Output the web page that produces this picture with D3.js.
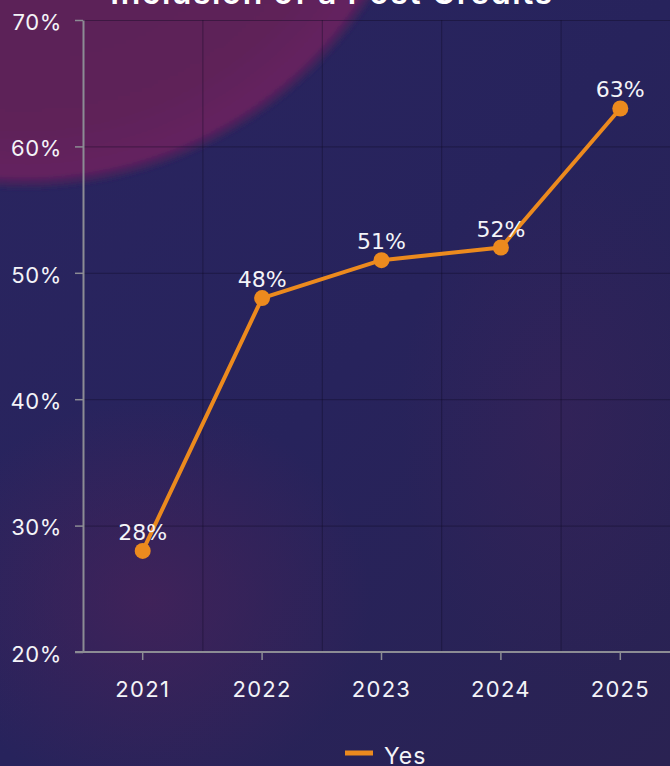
<!DOCTYPE html>
<html>
<head>
<meta charset="utf-8">
<script src="https://cdn.jsdelivr.net/npm/d3@7"></script>
<style>
    html, body { margin: 0; padding: 0; background: #27235a; overflow: hidden; }
</style>
</head>
<body>
<div id="chart"></div>
<script>
const years = ['2021', '2022', '2023', '2024', '2025']
const yesValues = [28, 48, 51, 52, 63]
const yTicks = [20, 30, 40, 50, 60, 70]
const seriesName = 'Yes'
const title = 'Inclusion of a Post Credits'

const width = 670
const height = 766
const margin = { top: 20, right: -10, bottom: 114, left: 83 }

const svg = d3
    .select('#chart')
    .append('svg')
    .attr('width', width)
    .attr('height', height)

const defs = svg.append('defs')

const bgGrad = defs.append('linearGradient')
    .attr('id', 'bg')
    .attr('x1', 0).attr('y1', 0).attr('x2', 1).attr('y2', 1)
bgGrad.append('stop').attr('offset', '0%').attr('stop-color', '#2a2560')
bgGrad.append('stop').attr('offset', '50%').attr('stop-color', '#27235c')
bgGrad.append('stop').attr('offset', '100%').attr('stop-color', '#2a2252')

const haze = defs.append('radialGradient').attr('id', 'haze')
haze.append('stop').attr('offset', '0%').attr('stop-color', '#4a2258').attr('stop-opacity', 0.7)
haze.append('stop').attr('offset', '100%').attr('stop-color', '#4a2258').attr('stop-opacity', 0)

const blob = defs.append('radialGradient').attr('id', 'blob')
blob.append('stop').attr('offset', '0%').attr('stop-color', '#571e58')
blob.append('stop').attr('offset', '85%').attr('stop-color', '#5e2159')
blob.append('stop').attr('offset', '97%').attr('stop-color', '#65205f')
blob.append('stop').attr('offset', '100%').attr('stop-color', '#3a2258').attr('stop-opacity', 0.6)

const blur = defs.append('filter').attr('id', 'soft')
blur.append('feGaussianBlur').attr('stdDeviation', 2)

svg.append('rect').attr('width', width).attr('height', height).attr('fill', 'url(#bg)')
svg.append('ellipse')
    .attr('cx', 150).attr('cy', 600).attr('rx', 220).attr('ry', 200)
    .attr('fill', 'url(#haze)')
svg.append('ellipse')
    .attr('cx', 560).attr('cy', 420).attr('rx', 160).attr('ry', 260)
    .attr('fill', 'url(#haze)').attr('opacity', 0.4)
svg.append('circle')
    .attr('cx', 25).attr('cy', -224).attr('r', 412)
    .attr('fill', 'url(#blob)')
    .attr('filter', 'url(#soft)')

// title, mostly scrolled off the top
svg.append('text')
    .attr('x', 332)
    .attr('y', 4)
    .attr('text-anchor', 'middle')
    .attr('fill', '#ffffff')
    .style('font-family', 'Inter, sans-serif')
    .style('font-weight', 600)
    .style('font-size', '32px')
    .style('letter-spacing', '1.5px')
    .text(title)

const x = d3.scaleBand()
    .domain(years)
    .range([margin.left, width - margin.right])

const y = d3.scaleLinear()
    .domain([20, 70])
    .range([height - margin.bottom, margin.top])

const grid = svg.append('g').attr('stroke', 'rgba(15,10,35,0.4)').attr('stroke-width', 1)
grid.selectAll('.hg')
    .data(yTicks)
    .enter()
    .append('line')
    .attr('x1', margin.left).attr('x2', width)
    .attr('y1', d => y(d) + 0.5).attr('y2', d => y(d) + 0.5)
grid.selectAll('.vg')
    .data(years.slice(1))
    .enter()
    .append('line')
    .attr('x1', d => x(d) + 0.5).attr('x2', d => x(d) + 0.5)
    .attr('y1', margin.top).attr('y2', height - margin.bottom)

const axisColor = '#8c8c94'
const labelFont = 'Inter, sans-serif'

const xAxis = svg.append('g')
    .attr('transform', `translate(0,${height - margin.bottom})`)
    .call(d3.axisBottom(x).tickSize(8).tickPadding(21).tickSizeOuter(0))
xAxis.select('.domain').attr('stroke', axisColor).attr('stroke-width', 2).attr('d', `M${margin.left - 8},0H${width}`)
xAxis.selectAll('.tick line').attr('stroke', axisColor).attr('stroke-width', 1.5)
xAxis.selectAll('.tick text')
    .attr('fill', '#f4f4f8')
    .style('font-family', labelFont)
    .style('font-size', '22px')
    .style('letter-spacing', '1.3px')

const yAxis = svg.append('g')
    .attr('transform', `translate(${margin.left},0)`)
    .call(d3.axisLeft(y).tickValues(yTicks).tickFormat(d => d + '%').tickSize(8).tickPadding(13).tickSizeOuter(0))
yAxis.select('.domain').attr('stroke', axisColor).attr('stroke-width', 2)
yAxis.selectAll('.tick line').attr('stroke', axisColor).attr('stroke-width', 1.5)
yAxis.selectAll('.tick text')
    .attr('fill', '#f4f4f8')
    .attr('dy', '0.42em')
    .style('font-family', labelFont)
    .style('font-size', '22px')
    .style('letter-spacing', '0.6px')

const orange = '#ec8a1e'
const cx = d => x(d) + x.bandwidth() / 2

const line = d3.line()
    .x((d, i) => cx(years[i]))
    .y(d => y(d))

svg.append('path')
    .datum(yesValues)
    .attr('fill', 'none')
    .attr('stroke', orange)
    .attr('stroke-width', 4)
    .attr('stroke-linejoin', 'round')
    .attr('d', line)

svg.selectAll('.dot')
    .data(yesValues)
    .enter()
    .append('circle')
    .attr('cx', (d, i) => cx(years[i]))
    .attr('cy', d => y(d))
    .attr('r', 8)
    .attr('fill', orange)

svg.selectAll('.val')
    .data(yesValues)
    .enter()
    .append('text')
    .attr('x', (d, i) => cx(years[i]))
    .attr('y', d => y(d) - 11)
    .attr('text-anchor', 'middle')
    .attr('fill', '#f4f4f8')
    .style('font-family', 'DejaVu Sans, sans-serif')
    .style('font-size', '22px')
    .text(d => d + '%')

const legend = svg.append('g').attr('transform', 'translate(345,753)')
legend.append('line')
    .attr('x1', 0).attr('x2', 28)
    .attr('stroke', orange)
    .attr('stroke-width', 5)
legend.append('text')
    .attr('x', 39)
    .attr('y', 11)
    .attr('fill', '#f4f4f8')
    .style('font-family', labelFont)
    .style('font-size', '23px')
    .style('letter-spacing', '1px')
    .text(seriesName)
</script>
</body>
</html>
